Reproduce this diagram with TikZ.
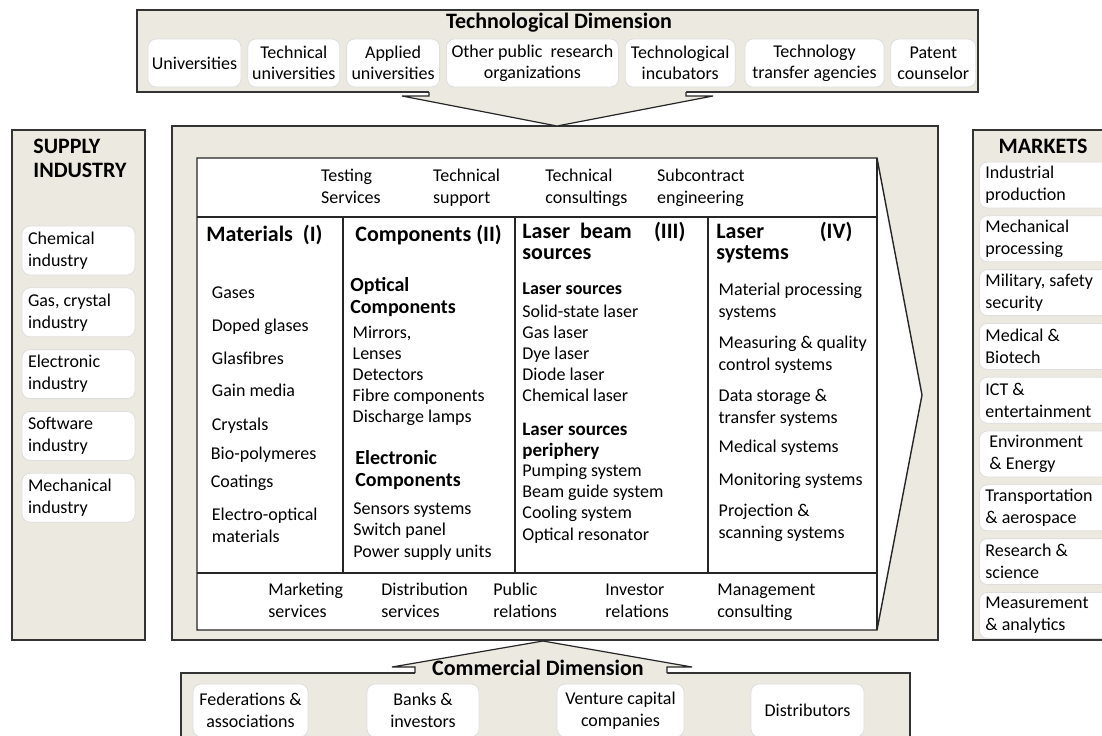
\documentclass[tikz,border=0pt]{standalone}
\usepackage{fontspec}
\setmainfont{Carlito}
\usetikzlibrary{positioning}
\definecolor{dimbeige}{RGB}{236,233,224}
\definecolor{pillgray}{RGB}{222,222,222}

\begin{document}
\begin{tikzpicture}[x=.5pt,y=-.5pt,
	box/.style={draw=black!80,fill=dimbeige,line width=.7pt},
	pill/.style={draw=pillgray,fill=white,rounded corners=4pt,line width=.4pt,align=center,inner xsep=1pt,inner ysep=1pt,font=\fontsize{9}{10.5}\selectfont},
	lpill/.style={pill,align=flush left,inner xsep=3pt,text width=#1,font=\fontsize{9}{11}\selectfont},
	txt/.style={inner sep=0pt,anchor=base west,align=flush left,text width=#1,font=\fontsize{9}{11}\selectfont}, txt/.default=90pt,
	head/.style={inner sep=0pt,anchor=base west,align=flush left,text width=#1,font=\fontsize{11}{10.5}\selectfont\bfseries},
	title/.style={inner sep=0pt,anchor=base,font=\fontsize{11}{12}\selectfont\bfseries}]
	\useasboundingbox (0,0) rectangle (1102,735); \clip (0,0) rectangle (1102,735);
	\draw [box] (137,10) rectangle (978,92); \draw [box] (12,130) rectangle (145,640); \draw [box] (973,130) rectangle (1120,640);
	\draw [box] (172,126) rectangle (938,640); \draw [box] (181,673) rectangle (910,760);
	\fill [dimbeige] (429,90.5)--(429,96)--(402,96)--(557,126)--(713,96)--(686,96)--(686,90.5)--cycle;
	\draw [black!85,line width=.6pt] (429,92)--(429,96)--(402,96)--(557,126)--(713,96)--(686,96)--(686,92);
	\fill [dimbeige] (415,674.5)--(415,667)--(392,667)--(543,641)--(692,667)--(667,667)--(667,674.5)--cycle;
	\draw [black!85,line width=.6pt] (415,673)--(415,667)--(392,667)--(543,641)--(692,667)--(667,667)--(667,673);
	\filldraw [fill=white,draw=black!85,line width=.7pt] (197,158)--(877,158)--(922,395)--(877,630)--(197,630)--cycle;
	\draw [black!85,line width=.7pt] (877,158)--(877,630) (197,217)--(877,217) (197,573)--(877,573) (343,217)--(343,573) (515,217)--(515,573) (708,217)--(708,573);
	\node [title] (0tech) at (559,28.5) {Technological Dimension};
	\node [pill,minimum width=46.5pt,minimum height=24pt] (1univ) at (194.5,63) {Universities};
	\node [pill,minimum width=46pt,minimum height=24pt,right=3pt of 1univ] (1techuni) {Technical\\universities};
	\node [pill,minimum width=46.5pt,minimum height=24pt,right=3pt of 1techuni] (1applied) {Applied\\universities};
	\node [pill,minimum width=86pt,minimum height=24pt,right=3pt of 1applied] (1public) {Other public\ \ research\\organizations};
	\node [pill,minimum width=55pt,minimum height=24pt,right=3pt of 1public] (1incub) {Technological\\incubators};
	\node [pill,minimum width=69.5pt,minimum height=24pt,right=4.5pt of 1incub] (1transfer) {Technology\\transfer agencies};
	\node [pill,minimum width=42.5pt,minimum height=24pt,right=3pt of 1transfer] (1patent) {Patent\\counselor};
	\node [head=60pt,font=\fontsize{11}{12}\selectfont\bfseries] (0supply) at (33,153.5) {SUPPLY\\INDUSTRY};
	\node [lpill=50.5pt,minimum height=24.5pt] (1chem) at (78.5,250.5) {Chemical\\industry};
	\node [lpill=50.5pt,minimum height=24.5pt,below=6pt of 1chem] (1gas) {Gas, crystal\\industry};
	\node [lpill=50.5pt,minimum height=24.5pt,below=6pt of 1gas] (1elec) {Electronic\\industry};
	\node [lpill=50.5pt,minimum height=24.5pt,below=6pt of 1elec] (1soft) {Software\\industry};
	\node [lpill=50.5pt,minimum height=24.5pt,below=6pt of 1soft] (1mech) {Mechanical\\industry};
	\node [title] (0markets) at (1043,153.5) {MARKETS};
	\node [lpill=62pt,minimum height=23pt,anchor=west] (5indus) at (979,185) {Industrial\\production};
	\node [lpill=62pt,minimum height=23pt,below=3.5pt of 5indus] (5mech) {Mechanical\\processing};
	\node [lpill=62pt,minimum height=23pt,below=3.5pt of 5mech] (5milit) {Military, safety\\security};
	\node [lpill=62pt,minimum height=23pt,below=3.5pt of 5milit] (5medic) {Medical \&\\Biotech};
	\node [lpill=62pt,minimum height=23pt,below=3.5pt of 5medic] (5ict) {ICT \&\\entertainment};
	\node [lpill=62pt,minimum height=23pt,below=3.5pt of 5ict] (5envir) {\hspace*{2pt}Environment\\\hspace*{2pt}\& Energy};
	\node [lpill=62pt,minimum height=23pt,below=3.5pt of 5envir] (5trans) {Transportation\\\& aerospace};
	\node [lpill=62pt,minimum height=23pt,below=3.5pt of 5trans] (5resea) {Research \&\\science};
	\node [lpill=62pt,minimum height=23pt,below=3.5pt of 5resea] (5measu) {Measurement\\\& analytics};
	\node [txt] (2test) at (320.7,181) {Testing\\Services}; \node [txt] (2support) at (432.7,181) {Technical\\support};
	\node [txt] (2consult) at (545,181) {Technical\\consultings}; \node [txt] (2subcon) at (656.7,181) {Subcontract\\engineering};
	\node [head=80pt] (2matl) at (206,241.5) {Materials\ \ (I)}; \node [head=80pt] (2comp) at (355,241.5) {Components (II)};
	\node [head=81.5pt] (3laser) at (522,238.5) {Laser\ \ beam\hfill(III)\\sources}; \node [head=68pt] (4laser) at (716,238.5) {Laser\hfill(IV)\\systems};
	\node [txt] (2gases) at (211.5,298) {Gases}; \node [txt] (2doped) at (211.5,331) {Doped glases}; \node [txt] (2fibre) at (211.5,364) {Glasfibres};
	\node [txt] (2gain) at (211.5,396.5) {Gain media}; \node [txt] (2cryst) at (211.5,430) {Crystals}; \node [txt] (2bio) at (210.5,459) {Bio-polymeres};
	\node [txt] (2coat) at (210.5,487.5) {Coatings}; \node [txt] (2electro) at (211.5,520.5) {Electro-optical\\materials};
	\node [txt,font=\fontsize{10}{11}\selectfont\bfseries] (2optic) at (350,291.5) {Optical\\Components};
	\node [txt,font=\fontsize{9}{10.6}\selectfont] (2mirror) at (352.3,338) {Mirrors,\\Lenses\\Detectors\\Fibre components\\Discharge lamps};
	\node [txt,font=\fontsize{10}{11.2}\selectfont\bfseries] (2elec) at (355,464.5) {Electronic\\Components};
	\node [txt,font=\fontsize{9}{10.8}\selectfont] (2sensor) at (353,514) {Sensors systems\\Switch panel\\Power supply units};
	\node [txt,font=\fontsize{9}{11}\selectfont\bfseries] (3src) at (522,294.5) {Laser sources};
	\node [txt,font=\fontsize{9}{10.5}\selectfont] (3solid) at (522,317.5) {Solid-state laser\\Gas laser\\Dye laser\\Diode laser\\Chemical laser};
	\node [txt,font=\fontsize{9.5}{10.8}\selectfont\bfseries] (3peri) at (522,435) {Laser sources\\periphery};
	\node [txt,font=\fontsize{9}{10.55}\selectfont] (3pump) at (522,476.7) {Pumping system\\Beam guide system\\Cooling system\\Optical resonator};
	\node [txt] (4mat) at (718.3,295.7) {Material processing\\systems}; \node [txt] (4meas) at (718.3,348.3) {Measuring \& quality\\control systems};
	\node [txt] (4data) at (718.3,401) {Data storage \&\\transfer systems}; \node [txt] (4med) at (718.3,452.7) {Medical systems};
	\node [txt] (4mon) at (718.3,485) {Monitoring systems}; \node [txt] (4proj) at (718.3,516.7) {Projection \&\\scanning systems};
	\node [txt] (6market) at (268,595) {Marketing\\services}; \node [txt] (6distr) at (381,595) {Distribution\\services};
	\node [txt] (6public) at (493,595) {Public\\relations}; \node [txt] (6invest) at (605,595) {Investor\\relations};
	\node [txt] (6manage) at (717,595) {Management\\consulting};
	\node [title] (0comm) at (538,675.5) {Commercial Dimension};
	\node [pill,minimum width=57.5pt,minimum height=26.5pt,font=\fontsize{9}{11}\selectfont] (7feder) at (250.5,710.5) {Federations \&\\associations};
	\node [pill,minimum width=56pt,minimum height=26.5pt,font=\fontsize{9}{11}\selectfont] (7banks) at (423,710.5) {Banks \&\\investors};
	\node [pill,minimum width=63.5pt,minimum height=26.5pt,font=\fontsize{9}{11}\selectfont] (7venture) at (620.5,710.5) {Venture capital\\companies};
	\node [pill,minimum width=56.5pt,minimum height=26.5pt,font=\fontsize{9}{11}\selectfont] (7distr) at (807.5,710.5) {Distributors};
\end{tikzpicture}
\end{document}
